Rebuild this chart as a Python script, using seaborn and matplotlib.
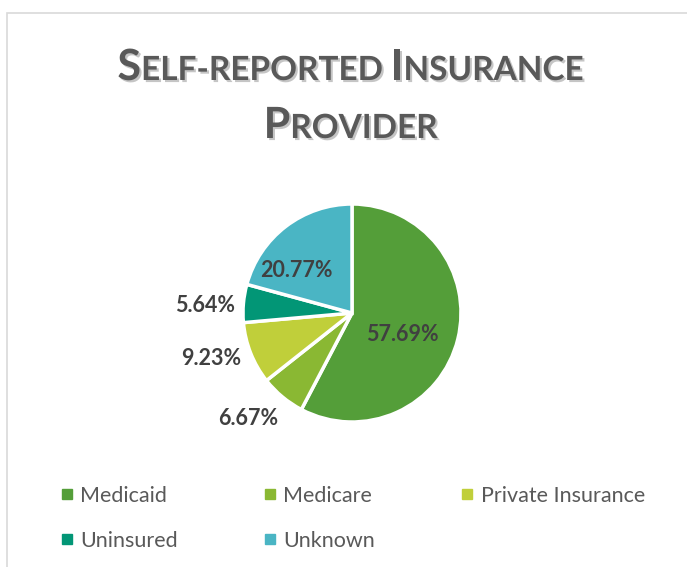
import numpy as np
import matplotlib
matplotlib.use("Agg")
import matplotlib.pyplot as plt
import matplotlib.patheffects as pe
from matplotlib.lines import Line2D
from matplotlib.patches import Rectangle
import seaborn as sns

# ---- data ----
categories = ["Medicaid", "Medicare", "Private Insurance", "Uninsured", "Unknown"]
values = [57.69, 6.67, 9.23, 5.64, 20.77]
label_texts = ["57.69%", "6.67%", "9.23%", "5.64%", "20.77%"]
title_line1 = "Self-reported Insurance"
title_line2 = "Provider"

# ---- style ----
colors = ["#549E39", "#8AB833", "#C0CF3A", "#029676", "#4AB5C4"]
label_radius = [0.50, 1.36, 1.36, 1.35, 0.64]
label_angle_shift = [-9, -5, -4, 2, 15]

sns.set_theme(style="white")
plt.rcParams["font.family"] = ["Lato", "DejaVu Sans"]

W, H = 687, 567
fig = plt.figure(figsize=(W / 100, H / 100), dpi=100)
fig.patch.set_facecolor("white")

# chart frame
fig.patches.append(Rectangle((7 / W, -0.1), 1.2, (H - 13) / H + 0.1,
                             transform=fig.transFigure, fill=False,
                             ec="#D9D9D9", lw=1.2, zorder=0))

# pie axes
cx, cy, r = 352, 313, 109
ax = fig.add_axes([(cx - r) / W, (H - cy - r) / H, 2 * r / W, 2 * r / H])
wedges, _ = ax.pie(values, colors=colors, startangle=90, counterclock=False,
                   radius=1.0,
                   wedgeprops=dict(edgecolor="white", linewidth=2.5))
ax.set_xlim(-1, 1)
ax.set_ylim(-1, 1)
ax.set_aspect("equal")
ax.axis("off")

for w, txt, rr, sh in zip(wedges, label_texts, label_radius, label_angle_shift):
    mid = np.deg2rad((w.theta1 + w.theta2) / 2 + sh)
    ax.text(rr * np.cos(mid), rr * np.sin(mid), txt, ha="center", va="center",
            fontsize=15.5, fontweight="bold", color="#404040", clip_on=False)

# title in small caps
tcol = "#595959"
big, small = 31, 24
shadow = [pe.SimplePatchShadow(offset=(1.5, -1.5), alpha=0.25), pe.Normal()]


def small_caps_pieces(s):
    pieces = []
    for word_i, word in enumerate(s.split(" ")):
        if word_i > 0:
            pieces.append((" ", small))
        pieces.append((word[0].upper(), big))
        if len(word) > 1:
            pieces.append((word[1:].upper(), small))
    return pieces


fig.canvas.draw()
renderer = fig.canvas.get_renderer()


def draw_small_caps(s, y_px):
    pieces = small_caps_pieces(s)
    objs = []
    for t, fs in pieces:
        o = fig.text(0, 1 - y_px / H, t, fontsize=fs, fontweight="bold",
                     color=tcol, ha="left", va="baseline",
                     path_effects=shadow)
        objs.append(o)
    widths = [o.get_window_extent(renderer).width for o in objs]
    total = sum(widths)
    x = W / 2 - total / 2 + 7
    for o, w in zip(objs, widths):
        o.set_x(x / W)
        x += w


draw_small_caps(title_line1, 80)
draw_small_caps(title_line2, 138)

# legend (row-major order emulated)
handles = [Line2D([0], [0], marker="s", linestyle="none", markersize=6.5,
                  markerfacecolor=c, markeredgecolor=c) for c in colors]
order = [0, 3, 1, 4, 2]
leg = fig.legend([handles[i] for i in order], [categories[i] for i in order],
                 ncol=3, loc="upper left", bbox_to_anchor=(62 / W, 1 - 486 / H),
                 frameon=False, fontsize=15.5, handlelength=0.45,
                 handletextpad=0.4, columnspacing=4.05, labelspacing=1.15,
                 borderaxespad=0, borderpad=0)
for t in leg.get_texts():
    t.set_color("#595959")

fig.savefig("out.png", dpi=100, facecolor="white")
